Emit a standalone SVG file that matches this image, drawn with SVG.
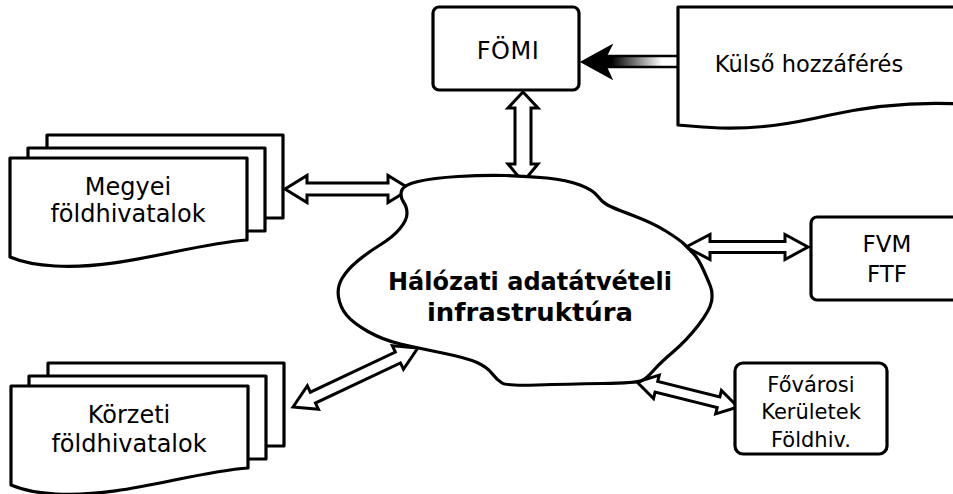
<svg xmlns="http://www.w3.org/2000/svg" xmlns:xlink="http://www.w3.org/1999/xlink" width="953" height="494" viewBox="0 0 953 494">
<style>
  .shape { fill: #fff; stroke: #000; stroke-width: 3.2; stroke-linejoin: round; }
  .arrow { fill: #fff; stroke: #000; stroke-width: 3; stroke-linejoin: miter; stroke-miterlimit: 10; }
  .lbl { font-family: "DejaVu Sans", "Liberation Sans", sans-serif; fill: #000; text-anchor: middle; }
  .bold { font-family: "DejaVu Sans", "Liberation Sans", sans-serif; font-weight: bold; fill: #000; text-anchor: middle; font-size: 25px; }
</style>
<defs>
  <linearGradient id="fade" gradientUnits="userSpaceOnUse" x1="612" y1="0" x2="662" y2="0">
    <stop offset="0" stop-color="#000"/>
    <stop offset="1" stop-color="#fff"/>
  </linearGradient>
  <g id="docstack">
    <rect class="shape" x="47" y="135" width="236" height="83"/>
    <rect class="shape" x="28" y="148" width="237" height="83"/>
    <path class="shape" d="M10,158 H247 V240 C190,244 120,270 55,266 C35,265 22,262 10,257 Z"/>
  </g>
</defs>
<rect width="953" height="494" fill="#fff"/>

<g id="connectors">
  <!-- Külső -> FÖMI -->
  <rect x="606" y="56" width="74" height="11" fill="url(#fade)" stroke="#000" stroke-width="2.5"/>
  <polygon points="582,62 611,46 606,56 606,67 611,78" fill="#000" stroke="#000" stroke-width="2" stroke-linejoin="miter"/>
  <!-- FÖMI <-> cloud -->
  <polygon class="arrow" points="523,92 538,108 531,108 531,164 538,164 523,182 508,164 515,164 515,108 508,108"/>
  <!-- Megyei <-> cloud -->
  <polygon class="arrow" points="285,189 307,175.5 307,183 388,183 388,175.5 410,189 388,202.5 388,195 307,195 307,202.5"/>
  <!-- cloud <-> FVM -->
  <polygon class="arrow" points="686,247 710,234.5 710,241.5 785,241.5 785,234.5 808,247 785,259.5 785,252.5 710,252.5 710,259.5"/>
  <!-- Körzeti <-> cloud -->
  <polygon class="arrow" transform="translate(293,407) rotate(-25.27)" points="0,0 22,-13 22,-6 116,-6 116,-13 138,0 116,13 116,6 22,6 22,13"/>
  <!-- cloud <-> Fővárosi -->
  <polygon class="arrow" transform="translate(637,382) rotate(13.9)" points="0,0 20,-12 20,-5.5 84,-5.5 84,-12 104,0 84,12 84,5.5 20,5.5 20,12"/>
</g>

<g id="cloud">
  <path class="shape" d="M418,181.5 Q433,178 458,176.5 Q483,175 505,175.5 Q527,176 547,178 Q567,180 580,185 Q593,190 597.5,196 Q602,202 607.5,205 Q613,208 633,215.5 Q653,223 666.5,231.5 Q680,240 684,244 Q688,248 693,253 Q698,258 703,269 Q708,280 710.5,286.5 Q713,293 711.5,301.5 Q710,310 698.5,325 Q687,340 673.5,351.5 Q660,363 653.5,370.5 Q647,378 642,380.5 Q637,383 602,383.5 Q567,384 537,385 Q507,386 502,383 Q497,380 492,373.5 Q487,367 477,362.5 Q467,358 442.5,353 Q418,348 400.5,344 Q383,340 368,331.5 Q353,323 346.5,315 Q340,307 338.5,297 Q337,287 342,278.5 Q347,270 357,261.5 Q367,253 380,245 Q393,237 400,228.5 Q407,220 407,213.5 Q407,207 403.5,202 Q400,197 401.5,191 Q403,185 418,181.5 Z"/>
  <text class="bold" x="530" y="290" textLength="284" lengthAdjust="spacingAndGlyphs">Hálózati adatátvételi</text>
  <text class="bold" x="530" y="321" textLength="206" lengthAdjust="spacingAndGlyphs">infrastruktúra</text>
</g>

<g id="fomi">
  <rect class="shape" x="433" y="7" width="146" height="83" rx="6"/>
  <text class="lbl" x="508" y="59" font-size="24" letter-spacing="0.5">FÖMI</text>
</g>

<g id="kulso">
  <path class="shape" d="M678,125 V7 H960 V104 C920,102 880,104 830,115 C790,124 760,129 720,128 C700,127 690,126 678,125 Z"/>
  <text class="lbl" x="809" y="72" font-size="22.5">Külső hozzáférés</text>
</g>

<g id="megyei">
  <use xlink:href="#docstack"/>
  <text class="lbl" x="128" y="195" font-size="24">Megyei</text>
  <text class="lbl" x="128" y="222" font-size="24">földhivatalok</text>
</g>

<g id="korzeti">
  <use xlink:href="#docstack" transform="translate(1,228)"/>
  <text class="lbl" x="129" y="423" font-size="24">Körzeti</text>
  <text class="lbl" x="129" y="452" font-size="24">földhivatalok</text>
</g>

<g id="fvm">
  <rect class="shape" x="811" y="217" width="160" height="83" rx="6"/>
  <text class="lbl" x="887" y="252" font-size="23">FVM</text>
  <text class="lbl" x="887" y="282" font-size="23">FTF</text>
</g>

<g id="fovarosi">
  <rect class="shape" x="735" y="363" width="152" height="91" rx="8"/>
  <text class="lbl" x="811" y="392" font-size="21">Fővárosi</text>
  <text class="lbl" x="811" y="419" font-size="21">Kerületek</text>
  <text class="lbl" x="811" y="447" font-size="21">Földhiv.</text>
</g>
</svg>
